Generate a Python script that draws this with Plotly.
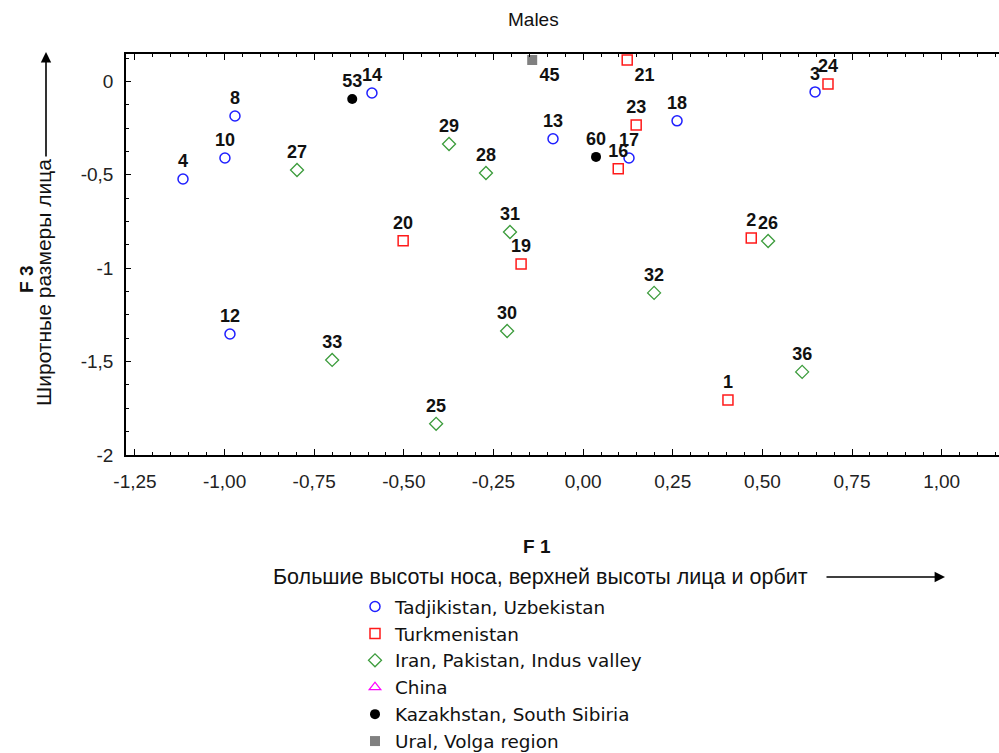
import plotly.graph_objects as go

# ---------------- data ----------------
tadj_x = [-1.116, -0.999, -0.971, -0.589, -0.985, -0.084, 0.128, 0.262, 0.647]
tadj_y = [-0.522, -0.410, -0.185, -0.062, -1.352, -0.307, -0.410, -0.211, -0.056]
tadj_lbl = ["4", "10", "8", "14", "12", "13", "17", "18", "3"]

turk_x = [0.123, 0.683, 0.148, 0.098, -0.502, -0.173, 0.469, 0.404]
turk_y = [0.115, -0.013, -0.233, -0.468, -0.853, -0.977, -0.838, -1.705]
turk_lbl = ["21", "24", "23", "16", "20", "19", "2", "1"]

iran_x = [-0.798, -0.374, -0.271, -0.204, -0.212, -0.700, -0.410, 0.198, 0.516, 0.611]
iran_y = [-0.474, -0.335, -0.490, -0.806, -1.336, -1.491, -1.833, -1.132, -0.854, -1.555]
iran_lbl = ["27", "29", "28", "31", "30", "33", "25", "32", "26", "36"]

china_x = []
china_y = []
china_lbl = []

kaz_x = [-0.644, 0.036]
kaz_y = [-0.094, -0.404]
kaz_lbl = ["53", "60"]

ural_x = [-0.142]
ural_y = [0.115]
ural_lbl = ["45"]

group_names = ["Tadjikistan, Uzbekistan", "Turkmenistan", "Iran, Pakistan, Indus valley",
               "China", "Kazakhstan, South Sibiria", "Ural, Volga region"]

x_tickvals = [-1.25, -1.0, -0.75, -0.5, -0.25, 0.0, 0.25, 0.5, 0.75, 1.0]
x_ticktext = ["-1,25", "-1,00", "-0,75", "-0,50", "-0,25", "0,00", "0,25", "0,50", "0,75", "1,00"]
y_tickvals = [0, -0.5, -1, -1.5, -2]
y_ticktext = ["0", "-0,5", "-1", "-1,5", "-2"]

title_text = "Males"
x_title_main = "F 1"
x_title_sub = "Большие высоты носа, верхней высоты лица и орбит"
y_title_main = "F 3"
y_title_sub = "Широтные размеры лица"

# ---------------- styles ----------------
FONT = "Liberation Sans, Arial, sans-serif"
LEGEND_FONT = "DejaVu Sans, Liberation Sans, sans-serif"
BOTTOM_RIGHT = {"21", "45"}
styles = [
    dict(symbol="circle-open", color="#1f1fff", line=dict(width=1.5, color="#1f1fff")),
    dict(symbol="square-open", color="#ff1a1a", line=dict(width=1.5, color="#ff1a1a")),
    dict(symbol="diamond-open", color="#3c9c3c", line=dict(width=1.3, color="#3c9c3c")),
    dict(symbol="triangle-up-open", color="#ff00ff", line=dict(width=1.3, color="#ff00ff")),
    dict(symbol="circle", color="#000000", line=dict(width=0, color="#000000")),
    dict(symbol="square", color="#808080", line=dict(width=0, color="#808080")),
]
groups = [
    (tadj_x, tadj_y, tadj_lbl),
    (turk_x, turk_y, turk_lbl),
    (iran_x, iran_y, iran_lbl),
    (china_x, china_y, china_lbl),
    (kaz_x, kaz_y, kaz_lbl),
    (ural_x, ural_y, ural_lbl),
]

fig = go.Figure()
for (gx, gy, gl), name, st in zip(groups, group_names, styles):
    if len(gx) == 0:
        gx, gy, gl = [None], [None], [""]
    fig.add_trace(go.Scatter(
        x=gx, y=gy, text=gl, name=name,
        mode="markers+text",
        textposition=["bottom right" if t in BOTTOM_RIGHT else "top center" for t in gl],
        textfont=dict(family=FONT, size=18, color="#111111", weight="bold"),
        marker=dict(symbol=st["symbol"], size=10, color=st["color"], line=st["line"]),
        hoverinfo="skip",
    ))

# layout geometry (pixels)
W, H = 999, 753
L, T, R, B = 126, 54, 0, 298
PW, PH = W - L - R, H - T - B


def pxx(p):
    return (p - L) / PW


def pxy(p):
    return (T + PH - p) / PH


annotations = [
    dict(text=title_text, x=pxx(533), y=pxy(19), font=dict(size=19)),
    dict(text="<b>" + x_title_main + "</b>", x=pxx(537), y=pxy(546), font=dict(size=19)),
    dict(text=x_title_sub, x=pxx(540), y=pxy(577), font=dict(size=21.5)),
    dict(text="<b>" + y_title_main + "</b>", x=pxx(26), y=pxy(280), font=dict(size=19), textangle=-90),
    dict(text=y_title_sub, x=pxx(43), y=pxy(283), font=dict(size=21), textangle=-90),
]
for a in annotations:
    a.update(xref="paper", yref="paper", showarrow=False, xanchor="center", yanchor="middle")
    a["font"].update(family=FONT, color="#111111")

annotations += [
    dict(x=pxx(945), y=pxy(577), xref="paper", yref="paper", ax=-120, ay=0, text="",
         showarrow=True, arrowhead=2, arrowsize=1.3, arrowwidth=1.6, arrowcolor="#000000"),
    dict(x=pxx(46), y=pxy(52), xref="paper", yref="paper", ax=0, ay=106, text="",
         showarrow=True, arrowhead=2, arrowsize=1.3, arrowwidth=1.6, arrowcolor="#000000"),
]

fig.update_layout(
    width=W, height=H,
    margin=dict(l=L, r=R, t=T, b=B, pad=0, autoexpand=False),
    paper_bgcolor="white", plot_bgcolor="white",
    font=dict(family=FONT, size=19, color="#111111"),
    annotations=annotations,
    showlegend=True,
    hovermode=False,
    legend=dict(
        x=pxx(355), y=pxy(588), xanchor="left", yanchor="top",
        font=dict(family=LEGEND_FONT, size=18.4, color="#111111"),
        bgcolor="rgba(0,0,0,0)", borderwidth=0, tracegroupgap=0,
        itemclick=False, itemdoubleclick=False,
    ),
)
fig.update_xaxes(
    range=[-1.275, 1.160], tickmode="array", tickvals=x_tickvals, ticktext=x_ticktext,
    showgrid=False, zeroline=False, showline=True, linecolor="#000000", linewidth=1.5,
    mirror="ticks", ticks="inside", ticklen=6, tickwidth=1, tickcolor="#000000",
    minor=dict(dtick=0.05, tick0=0, ticks="inside", ticklen=3, tickcolor="#000000", showgrid=False),
    tickfont=dict(family=FONT, size=19, color="#222222"), ticklabelstandoff=8,
)
fig.update_yaxes(
    range=[-2.0, 0.147], tickmode="array", tickvals=y_tickvals, ticktext=y_ticktext,
    showgrid=False, zeroline=False, showline=True, linecolor="#000000", linewidth=1.5,
    mirror=False, ticks="inside", ticklen=5, tickwidth=1, tickcolor="#000000",
    minor=dict(dtick=0.125, tick0=0, ticks="inside", ticklen=3, tickcolor="#000000", showgrid=False),
    tickfont=dict(family=FONT, size=19, color="#222222"), ticklabelstandoff=7,
)

fig.write_html("out.html", config={"displayModeBar": False},
               post_script="document.body.style.margin='0';")
